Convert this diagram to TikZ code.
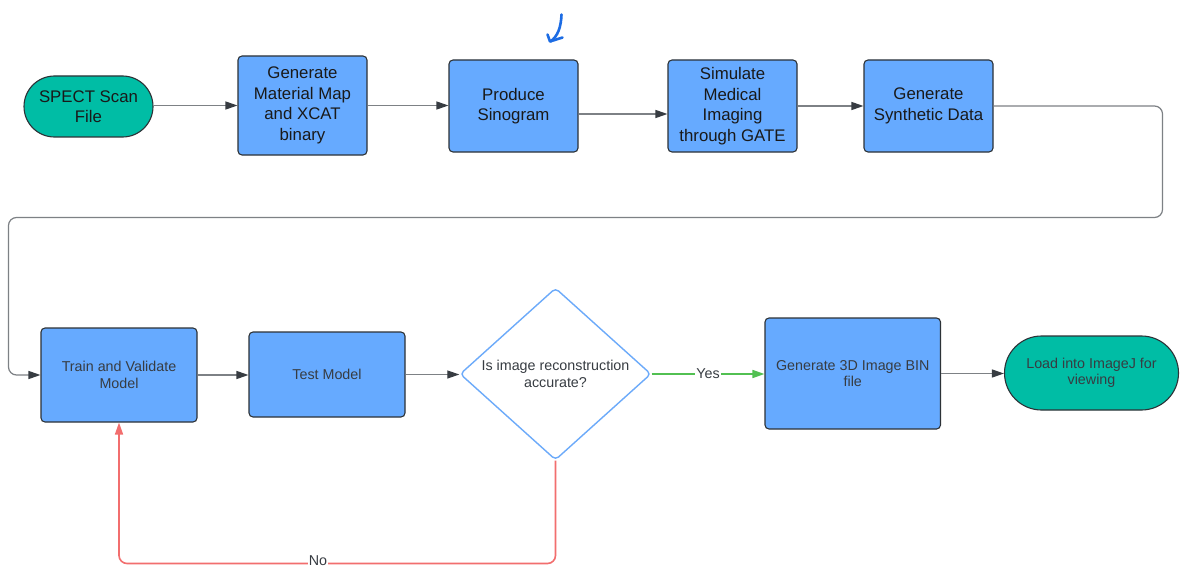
\documentclass[tikz,border=0pt]{standalone}
\usepackage{fontspec}
\setmainfont{Liberation Sans}
\usetikzlibrary{arrows.meta,shapes.geometric,shapes.misc,calc}

\definecolor{boxblue}{RGB}{102,170,255}
\definecolor{termteal}{RGB}{0,189,165}
\definecolor{edgedark}{RGB}{45,50,55}
\definecolor{wiregray}{RGB}{125,129,133}
\definecolor{tipgray}{RGB}{55,60,66}
\definecolor{decblue}{RGB}{108,170,250}
\definecolor{noRed}{RGB}{242,110,110}
\definecolor{yesGreen}{RGB}{82,192,82}
\definecolor{inkblue}{RGB}{28,108,228}
\definecolor{lowtext}{RGB}{55,60,66}

\newcommand\toptxt{\fontsize{16.8}{20.5}\selectfont}
\newcommand\lowtxt{\fontsize{14.3}{16.5}\selectfont}

\tikzset{
  proc/.style={draw=edgedark, fill=boxblue, line width=1.1pt, rounded corners=4pt,
    inner sep=0pt, align=center},
  term/.style={rounded rectangle, draw=edgedark, fill=termteal, line width=1.1pt,
    inner sep=0pt, align=center},
  toptext/.style={font=\toptxt, text=black!90},
  lowtext/.style={font=\lowtxt, text=lowtext},
  decision/.style={diamond, shape aspect=1.11, draw=decblue, fill=white, line width=1.4pt,
    rounded corners=4pt, inner sep=0pt, align=center},
  wire/.style={draw=wiregray, line width=1.2pt,
    -{Triangle[length=12pt,width=8pt,color=tipgray]}},
  loopwire/.style={wire, rounded corners=8pt},
  yeswire/.style={draw=yesGreen, line width=1.6pt, -{Triangle[length=12pt,width=8pt]}},
  nowire/.style={draw=noRed, line width=1.6pt, rounded corners=8pt,
    -{Triangle[length=12pt,width=8pt]}},
  lbl/.style={font=\lowtxt, text=lowtext, fill=white, inner sep=1pt},
  ink/.style={draw=inkblue, line width=2.6pt, line cap=round, line join=round}
}

\begin{document}
\begin{tikzpicture}[x=1pt,y=-1pt]
  \useasboundingbox (0,0) rectangle (1180,567);
  \fill[white] (0,0) rectangle (1180,567);

  % upper row: data preparation
  \node[term,toptext,minimum width=129pt,minimum height=61pt] (spect) at (88.5,106.5) {SPECT Scan\\File};
  \node[proc,toptext,minimum width=129pt,minimum height=99pt] (gen) at (302.5,105.5) {Generate\\Material Map\\and XCAT\\binary};
  \node[proc,toptext,minimum width=129pt,minimum height=92pt] (sino) at (513.5,106) {Produce\\Sinogram};
  \node[proc,toptext,minimum width=129pt,minimum height=92pt] (sim) at (732.5,106) {Simulate\\Medical\\Imaging\\through GATE};
  \node[proc,toptext,minimum width=129pt,minimum height=92pt] (syn) at (928.5,106) {Generate\\Synthetic Data};

  % lower row: model loop and output
  \node[proc,lowtext,minimum width=156pt,minimum height=94pt] (train) at (119,375) {Train and Validate\\Model};
  \node[proc,lowtext,minimum width=156pt,minimum height=85pt] (test) at (327,374.5) {Test Model};
  \node[decision,lowtext,minimum width=191pt,minimum height=172pt] (dec) at (555.5,374) {Is image reconstruction\\accurate?};
  \node[proc,lowtext,minimum width=175.5pt,minimum height=111pt] (bin) at (852.75,373.5) {Generate 3D Image BIN\\file};
  \node[term,lowtext,minimum width=174pt,minimum height=74pt] (load) at (1091.5,373) {Load into ImageJ for\\viewing};

  % connectors, upper row
  \draw[wire] (gen.west -| spect.east) -- (gen.west);
  \draw[wire] (gen.east) -- (gen.east -| sino.west);
  \draw[wire] ($(sino.east)+(0,8)$) -- ($(sim.west)+(0,8)$);
  \draw[wire] (sim.east) -- (syn.west);

  % wrap-around to the lower row
  \coordinate (turnR) at (1162.5,217.5);
  \coordinate (turnL) at (8.5,217.5);
  \draw[loopwire] (syn.east) -| (turnR) -- (turnL) |- (train.west);

  % connectors, lower row
  \draw[wire] (train.east) -- (train.east -| test.west);
  \draw[wire] (test.east) -- (test.east -| dec.west);
  \draw[yeswire] (dec.east) -- node[lbl] (yeslabel) {Yes} (dec.east -| bin.west);
  \draw[wire] (bin.east) -- (bin.east -| load.west);

  % retraining loop
  \coordinate (noR) at (555.5,563.5);
  \coordinate (noL) at (119,563.5);
  \draw[nowire] (dec.south) -- (noR) -- (noL) -- (train.south);
  \node[lbl] (nolabel) at (318,560.5) {No};

  % hand-drawn pointer above the sinogram step
  \draw[ink] (561.5,14.5) .. controls (561,27) and (558,36) .. (550.5,41.5);
  \draw[ink] (547.5,34.5) -- (550,41.5) -- (562.5,37.5);
\end{tikzpicture}
\end{document}
